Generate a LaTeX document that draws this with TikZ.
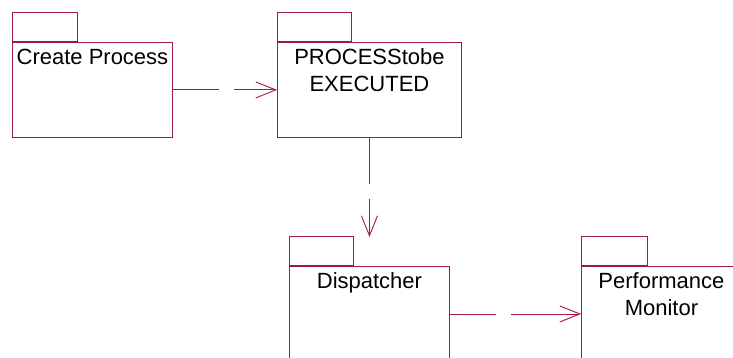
\documentclass[tikz,border=0pt]{standalone}
\usepackage{fontspec}
\setmainfont{Liberation Sans}
\usetikzlibrary{arrows.meta}
\definecolor{pk}{HTML}{A01848}
\tikzset{
  x=1pt, y=-1pt,
  pkgbody/.style={draw=pk, line width=0.9pt, rectangle, inner sep=0pt, minimum width=#1, minimum height=95pt, anchor=north west},
  pkgtab/.style={draw=pk, line width=0.9pt, rectangle, inner sep=0pt, minimum width=#1, minimum height=29pt, anchor=south west},
  pkgtext/.style={anchor=north, inner xsep=0pt, inner ysep=6.5pt, align=center, font=\fontsize{22}{27}\selectfont},
  dep/.style={draw=pk, line width=0.9pt, dash pattern=on 46pt off 15pt on 200pt, -{Straight Barb[length=20pt,width=16pt,line width=0.9pt]}},
}
\begin{document}
\begin{tikzpicture}
\useasboundingbox (0,0) rectangle (733,358);
\clip (0,0) rectangle (733,358);
\node[pkgbody=160pt] (cp) at (12,42) {};
\node[pkgtab=65pt] (cptab) at (cp.north west) {};
\node[pkgtext] (cptext) at (cp.north) {Create Process};

\node[pkgbody=184pt] (pte) at (277,42) {};
\node[pkgtab=74pt] (ptetab) at (pte.north west) {};
\node[pkgtext] (ptetext) at (pte.north) {PROCESStobe\\EXECUTED};

\node[pkgbody=160pt] (disp) at (289,266) {};
\node[pkgtab=64pt] (disptab) at (disp.north west) {};
\node[pkgtext] (disptext) at (disp.north) {Dispatcher};

\node[pkgbody=160pt] (perf) at (581,266) {};
\node[pkgtab=66pt] (perftab) at (perf.north west) {};
\node[pkgtext] (perftext) at (perf.north) {Performance\\Monitor};

\coordinate (dtop) at ([yshift=29pt]disp.north);

\draw[dep] (cp.east) -- (pte.west);
\draw[dep] (pte.south) -- (dtop);
\draw[dep] (disp.east) -- (perf.west);
\end{tikzpicture}
\end{document}
